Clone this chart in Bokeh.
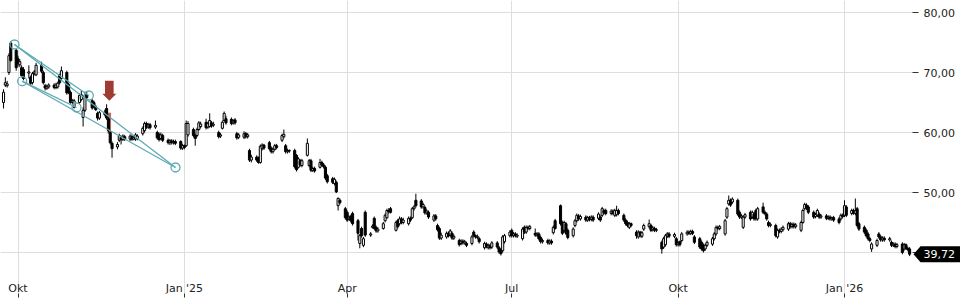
from datetime import datetime, timedelta
import pandas as pd
from bokeh.plotting import figure
from bokeh.models import Range1d, FixedTicker, Label, ColumnDataSource
from bokeh.embed import file_html
from bokeh.resources import INLINE

# ---------------- data (daily candles, trading days from 2024-09-23) ----------------
first_day = "2024-09-23"

opens = [
    65.0, 67.9, 67.8, 70.0, 74.9, 73.7,
    72.3, 71.3, 70.8, 70.5, 69.9, 69.2, 68.3, 69.8, 69.6, 71.2, 70.0, 67.8, 67.4, 67.6, 67.9, 67.5, 67.6, 69.5, 69.0, 70.0, 68.0, 66.7, 65.0,
    64.2, 65.0, 65.5, 62.5, 63.7, 66.3, 65.3, 65.0, 64.3, 63.2, 62.4, 63.0, 64.0, 62.3, 60.0, 58.2, 57.6, 58.7, 59.2, 58.8, 59.3,
    58.9, 59.3, 58.9, 58.9, 59.0, 59.8, 60.3, 61.5, 60.9, 61.3, 60.9, 60.0, 59.7, 59.0, 59.5, 58.7, 58.3, 58.6, 58.3, 58.5, 58.5, 57.4,
    57.8, 57.8, 59.6, 60.5, 59.5, 59.5, 60.5, 61.0, 61.7, 60.9, 61.0, 61.6, 61.2, 60.0, 59.4, 60.7, 62.0, 62.3, 62.2, 61.6, 62.1, 59.8, 59.2,
    59.2, 59.8, 59.3, 57.0, 55.4, 55.9, 55.8, 55.0, 57.3, 57.9, 58.3, 57.4, 56.8, 57.2, 57.8, 58.7, 59.3, 57.8, 56.8, 57.0,
    57.0, 56.2, 54.2, 55.3, 54.5, 56.2, 54.5, 55.3, 53.7, 54.0, 54.2, 55.0, 54.6, 54.2, 52.8, 52.3, 51.5, 51.7, 47.8, 48.7, 47.3,
    46.7, 45.6, 46.0, 46.5, 45.3, 41.5, 44.0, 41.2, 46.7, 42.9, 44.2, 45.7, 44.2, 43.6, 44.0, 45.3, 45.8, 47.0, 47.3, 43.7, 45.3, 44.8,
    45.6, 45.0, 44.8, 45.7, 45.8, 47.3, 48.7, 48.6, 47.6, 47.5, 46.6, 46.7, 45.4, 46.1, 44.5, 44.0, 42.4, 42.6, 43.2, 42.9, 43.2, 42.4,
    42.0, 41.5, 41.9, 41.6, 41.5, 41.5, 43.4, 42.8, 42.5, 42.3, 40.8, 41.4, 40.8, 41.2, 40.9, 41.6, 40.8, 40.5, 40.3, 41.8, 42.8,
    43.7, 42.8, 43.1, 42.7, 42.3, 44.2, 43.4, 44.2, 44.0, 43.2, 42.9, 43.1, 42.5, 41.8, 42.0, 41.6, 41.9, 43.3, 45.3, 47.8, 45.0, 43.7, 44.8,
    43.7, 42.8, 44.5, 45.3, 46.1, 45.6, 45.9, 45.4, 45.8, 45.5, 45.9, 45.7, 45.9, 46.2, 47.0, 47.0, 46.5, 46.9, 46.2, 46.3, 47.0,
    46.2, 45.4, 45.0, 44.2, 44.8, 43.4, 42.6, 43.4, 42.7, 43.9, 44.3, 44.5, 43.8, 44.0, 43.7, 41.7, 40.9, 41.3, 42.7, 43.1, 42.7, 42.3,
    41.3, 41.8, 42.0, 43.1, 43.4, 43.2, 43.5, 42.6, 42.3, 41.7, 41.2, 40.6, 41.2, 41.4, 42.3, 43.1, 44.2, 44.0, 43.1, 45.9, 48.1, 48.7, 48.4,
    48.7, 46.7, 45.9, 44.2, 45.9, 46.7, 45.9, 46.4, 47.0, 45.6, 47.6, 46.7, 46.4, 45.0, 44.5, 44.5, 42.6, 43.7, 43.5, 43.8,
    43.9, 44.8, 44.3, 44.7, 44.3, 43.7, 45.0, 47.3, 47.9, 47.6, 46.7, 46.0, 46.2, 46.4, 45.9, 46.1, 45.7, 45.9, 45.6, 45.8, 45.6, 45.6, 46.2,
    46.2, 47.6, 46.5, 47.0, 46.5, 47.3, 44.8, 44.2, 43.7, 43.1, 42.3, 40.6, 41.2, 43.1, 42.6, 42.1, 42.4, 42.1, 41.7, 41.2, 41.4, 41.0,
    41.4, 40.6, 41.3, 40.7, 40.6,
]
closes = [
    66.7, 68.3, 68.1, 72.8, 72.0, 70.8,
    71.5, 71.8, 69.5, 69.0, 70.1, 68.2, 69.8, 70.1, 71.2, 70.2, 68.3, 67.4, 67.7, 67.9, 67.5, 67.9, 68.2, 68.3, 70.3, 66.6, 66.7, 65.0, 65.3,
    65.3, 66.2, 66.3, 63.7, 66.2, 65.8, 64.1, 64.3, 63.8, 62.4, 63.3, 63.4, 62.4, 60.3, 58.3, 57.3, 58.0, 59.5, 58.8, 59.4, 58.9,
    59.4, 58.9, 59.2, 59.6, 59.4, 60.7, 61.5, 60.9, 61.3, 60.8, 61.2, 59.1, 58.8, 59.6, 58.7, 58.3, 58.6, 58.3, 58.5, 58.2, 57.4, 57.8,
    57.5, 61.5, 61.5, 59.5, 59.0, 60.5, 61.6, 61.4, 60.8, 61.5, 62.0, 61.1, 61.4, 59.3, 59.6, 61.7, 63.2, 61.6, 61.5, 61.9, 61.6, 59.1, 59.6,
    59.8, 59.3, 59.6, 55.4, 55.9, 55.4, 55.0, 57.7, 57.9, 57.4, 57.3, 56.8, 57.2, 57.8, 57.5, 59.5, 59.7, 56.8, 57.0, 56.9,
    54.3, 53.8, 55.6, 54.6, 55.3, 58.2, 55.3, 53.7, 54.0, 53.6, 55.0, 54.6, 54.3, 52.4, 51.8, 51.7, 52.2, 50.1, 49.0, 48.3, 45.8,
    45.4, 45.9, 45.3, 44.8, 43.2, 42.8, 42.8, 42.3, 42.9, 43.1, 44.4, 44.0, 43.6, 43.9, 44.8, 46.2, 47.0, 46.8, 46.7, 45.0, 44.3, 45.6,
    45.0, 45.4, 45.7, 45.4, 47.3, 47.6, 47.8, 47.6, 48.0, 46.6, 46.9, 45.9, 46.1, 45.6, 43.8, 42.4, 42.9, 43.2, 42.8, 43.6, 42.4, 42.7,
    41.3, 41.9, 41.6, 41.8, 41.2, 42.6, 42.8, 42.6, 42.7, 41.8, 41.5, 41.0, 41.2, 40.8, 41.6, 40.9, 40.1, 39.8, 42.6, 42.8, 43.4,
    42.8, 43.1, 42.8, 42.9, 43.9, 43.4, 44.2, 44.0, 44.3, 42.9, 43.1, 42.3, 41.8, 42.0, 41.6, 41.9, 41.6, 44.2, 44.0, 44.8, 43.2, 45.0, 43.2,
    42.5, 43.9, 45.3, 46.2, 45.6, 46.0, 45.4, 45.8, 45.5, 45.9, 45.4, 46.4, 45.4, 47.3, 46.6, 46.5, 46.9, 46.5, 47.0, 47.0, 46.5,
    45.4, 44.8, 44.5, 44.8, 44.5, 42.8, 43.4, 42.8, 43.3, 44.5, 44.8, 43.7, 44.1, 43.7, 43.8, 40.6, 42.3, 42.8, 43.1, 42.7, 43.0, 41.3,
    41.6, 41.3, 43.1, 43.4, 43.2, 43.5, 43.2, 41.7, 40.9, 40.6, 40.3, 41.2, 41.7, 42.3, 43.1, 44.2, 44.0, 44.3, 45.3, 47.3, 48.7, 47.9, 48.9,
    46.4, 45.9, 46.1, 45.9, 46.3, 45.6, 46.7, 45.6, 45.6, 47.3, 46.7, 46.5, 45.6, 44.5, 44.7, 42.8, 43.7, 43.5, 43.9, 44.2,
    44.8, 44.3, 44.7, 44.3, 44.6, 45.0, 47.0, 48.0, 47.4, 46.7, 45.9, 46.3, 47.0, 45.9, 46.1, 45.7, 45.9, 45.6, 45.8, 45.4, 45.0, 46.2, 46.0,
    47.8, 46.2, 47.0, 46.6, 47.0, 44.5, 43.9, 43.4, 42.8, 42.3, 42.0, 41.4, 42.0, 42.6, 42.1, 42.4, 42.1, 42.3, 41.2, 41.4, 41.0, 41.3,
    40.0, 41.3, 40.7, 40.5, 39.72,
]
highs = [
    67.2, 69.2, 68.6, 73.2, 75.2, 74.0,
    72.8, 72.2, 71.2, 70.9, 71.2, 69.5, 70.1, 70.4, 71.6, 71.8, 70.3, 68.1, 68.0, 68.2, 68.2, 68.3, 68.5, 69.8, 71.0, 70.3, 68.3, 67.0, 65.6,
    65.6, 66.5, 67.0, 64.2, 66.8, 66.8, 65.6, 65.3, 64.6, 63.5, 63.6, 63.8, 64.7, 62.6, 60.3, 58.5, 58.4, 59.8, 59.5, 59.7, 59.6,
    59.7, 59.6, 59.5, 59.9, 59.7, 61.0, 61.8, 61.8, 61.6, 61.6, 62.0, 60.3, 60.0, 60.0, 59.8, 59.0, 58.9, 58.9, 58.8, 58.8, 58.7, 58.1,
    58.0, 62.0, 61.9, 60.8, 59.8, 60.8, 61.9, 61.8, 62.3, 61.8, 63.2, 61.9, 61.8, 60.3, 59.9, 62.0, 63.5, 62.8, 62.5, 62.2, 62.4, 60.1, 59.9,
    60.2, 60.1, 59.9, 57.3, 56.3, 56.2, 56.0, 58.0, 58.2, 58.1, 58.6, 57.7, 57.5, 58.1, 58.1, 59.8, 60.5, 58.1, 57.3, 57.2,
    57.3, 56.4, 55.9, 55.6, 55.6, 59.0, 55.6, 55.6, 54.3, 54.3, 55.6, 55.3, 54.9, 54.5, 53.1, 52.6, 52.5, 52.0, 49.2, 49.0, 47.6,
    47.0, 46.2, 46.3, 46.8, 45.6, 43.1, 44.3, 42.6, 47.0, 43.4, 44.7, 46.0, 44.5, 44.2, 45.1, 46.5, 47.3, 47.4, 47.6, 45.3, 45.6, 46.0,
    45.9, 45.8, 46.0, 46.0, 47.6, 47.9, 49.8, 48.9, 48.3, 47.8, 47.2, 47.0, 46.4, 46.4, 44.8, 44.3, 43.3, 43.5, 43.5, 43.9, 43.5, 43.0,
    42.3, 42.2, 42.2, 42.1, 41.8, 42.9, 43.7, 43.0, 43.0, 42.6, 41.8, 41.7, 41.5, 41.4, 41.9, 41.9, 41.1, 40.7, 42.9, 43.1, 43.7,
    44.0, 43.4, 43.4, 43.2, 44.2, 44.5, 44.5, 44.5, 44.6, 44.0, 43.4, 43.4, 42.8, 42.3, 42.3, 42.2, 42.2, 44.5, 45.6, 48.0, 45.3, 45.3, 45.1,
    44.0, 44.2, 45.6, 46.5, 46.4, 46.3, 46.2, 46.1, 46.1, 46.2, 46.2, 46.7, 46.2, 47.6, 47.3, 47.3, 47.2, 47.2, 47.3, 47.8, 47.3,
    46.5, 45.7, 45.3, 45.1, 45.0, 43.7, 43.7, 43.6, 43.6, 44.8, 45.5, 44.8, 44.4, 44.3, 44.1, 42.0, 42.6, 43.1, 43.4, 43.4, 43.3, 42.6,
    41.9, 42.0, 43.4, 43.7, 43.7, 43.8, 43.8, 42.9, 42.6, 42.0, 41.5, 41.5, 42.0, 42.6, 43.4, 44.5, 44.5, 44.6, 45.6, 47.6, 49.5, 49.0, 49.2,
    49.0, 47.0, 46.4, 46.2, 46.6, 47.0, 47.0, 46.7, 47.3, 47.6, 48.3, 47.0, 46.7, 45.3, 45.0, 44.8, 44.0, 44.0, 44.2, 44.5,
    45.1, 45.1, 45.0, 45.0, 44.9, 45.3, 47.3, 48.3, 48.2, 47.9, 47.0, 46.6, 47.3, 46.7, 46.4, 46.4, 46.2, 46.2, 46.0, 46.1, 45.9, 46.5, 46.5,
    48.7, 47.9, 47.3, 47.3, 49.0, 47.6, 45.1, 44.5, 44.0, 43.4, 42.6, 41.7, 42.3, 43.4, 42.9, 42.7, 42.7, 42.6, 42.0, 41.7, 41.7, 41.6,
    41.7, 41.6, 41.5, 41.0, 40.9,
]
lows = [
    64.0, 67.6, 67.5, 69.6, 71.8, 70.3,
    71.0, 70.9, 69.2, 68.7, 69.0, 67.9, 68.0, 69.5, 69.4, 69.9, 68.0, 67.0, 67.1, 67.3, 67.2, 67.2, 67.3, 68.0, 68.8, 66.3, 66.4, 64.8, 64.8,
    64.0, 64.8, 65.2, 61.0, 63.4, 65.5, 63.8, 64.0, 63.6, 62.0, 62.1, 62.7, 62.1, 60.0, 58.0, 55.8, 57.2, 58.4, 58.0, 58.6, 58.6,
    58.6, 58.6, 58.7, 58.6, 58.7, 59.5, 60.0, 60.6, 60.6, 60.5, 60.6, 58.8, 58.5, 58.7, 58.4, 58.0, 57.9, 58.0, 58.0, 57.9, 57.1, 57.1,
    57.2, 57.6, 59.3, 59.2, 57.8, 59.2, 60.3, 60.7, 60.5, 60.6, 60.8, 60.8, 60.9, 59.0, 59.1, 60.5, 61.8, 61.3, 61.2, 61.3, 61.3, 58.8, 58.9,
    58.9, 59.0, 59.0, 55.1, 55.0, 55.1, 54.8, 54.8, 57.0, 57.1, 57.0, 56.5, 56.5, 57.0, 57.2, 58.4, 59.0, 56.5, 56.5, 56.6,
    54.0, 53.5, 54.0, 54.3, 54.2, 56.0, 54.2, 53.4, 53.4, 53.3, 54.0, 54.3, 54.0, 52.1, 51.5, 51.4, 51.2, 49.9, 47.0, 48.0, 45.5,
    45.1, 45.3, 45.0, 44.5, 42.0, 40.7, 42.5, 40.9, 42.6, 42.6, 44.0, 43.8, 43.3, 43.3, 43.8, 45.0, 45.6, 46.5, 46.5, 43.5, 44.0, 44.5,
    44.7, 44.7, 44.5, 45.1, 45.6, 47.0, 47.5, 47.3, 47.3, 46.3, 46.3, 45.6, 45.1, 45.3, 43.5, 42.1, 42.1, 42.3, 42.5, 42.6, 42.1, 42.1,
    41.0, 41.2, 41.3, 41.3, 40.9, 41.2, 42.5, 42.3, 42.2, 41.5, 40.5, 40.7, 40.5, 40.5, 40.6, 40.6, 39.8, 39.5, 40.0, 41.5, 42.5,
    42.5, 42.5, 42.5, 42.4, 42.0, 43.1, 43.1, 43.7, 43.7, 42.6, 42.6, 42.0, 41.5, 41.5, 41.3, 41.3, 41.3, 43.0, 43.8, 44.5, 42.9, 43.4, 42.9,
    42.2, 42.5, 44.2, 45.0, 45.3, 45.3, 45.1, 45.1, 45.2, 45.2, 45.1, 45.4, 45.1, 45.9, 46.3, 46.2, 46.2, 46.2, 45.9, 46.0, 46.2,
    45.1, 44.5, 44.2, 43.9, 44.2, 42.3, 42.3, 42.5, 42.4, 43.6, 44.0, 43.4, 43.5, 43.4, 43.4, 39.8, 40.6, 41.0, 42.4, 42.4, 42.4, 41.0,
    41.0, 41.0, 41.7, 42.8, 42.9, 42.9, 42.9, 41.4, 40.6, 40.3, 40.0, 40.3, 40.9, 41.1, 42.0, 42.8, 43.7, 43.7, 42.8, 45.6, 47.8, 47.6, 48.1,
    46.1, 45.6, 45.6, 43.9, 45.6, 45.3, 45.6, 45.3, 45.3, 45.3, 46.4, 46.2, 45.3, 44.2, 44.2, 42.5, 42.3, 43.2, 43.2, 43.5,
    43.6, 44.0, 44.0, 44.0, 44.0, 43.4, 44.8, 47.0, 47.1, 46.4, 45.6, 45.7, 45.9, 45.6, 45.6, 45.4, 45.4, 45.3, 45.3, 45.1, 44.7, 45.3, 45.7,
    45.9, 45.9, 46.2, 46.3, 46.2, 44.2, 43.6, 43.1, 42.5, 42.0, 41.7, 40.1, 40.9, 42.3, 41.8, 41.8, 41.8, 41.8, 40.9, 40.9, 40.7, 40.7,
    39.7, 40.3, 40.4, 40.2, 39.4,
]

month_ticks = ["2024-10-01", "2025-01-01", "2025-04-01", "2025-07-01", "2025-10-01", "2026-01-01"]
month_labels = ["Okt", "Jan '25", "Apr", "Jul", "Okt", "Jan '26"]
price_ticks = [40, 50, 60, 70, 80]
price_labels = ["", "50,00", "60,00", "70,00", "80,00"]   # 40,00 sits under the last-price marker

# drawn trend lines (start/end points)
trend_x0 = ["2024-09-29 01:30", "2024-09-29 01:30", "2024-10-03 07:40", "2024-10-03 07:40"]
trend_y0 = [74.67, 74.67, 68.55, 68.55]
trend_x1 = ["2024-11-09 03:36", "2024-12-27 02:10", "2024-11-02 08:24", "2024-12-27 02:10"]
trend_y1 = [66.17, 54.17, 64.17, 54.17]

# signal marker
signal_date = "2024-11-20 12:00"
signal_top = 63.3
signal_bottom = 59.8
arrow_tip = 65.3

# ---------------- geometry ----------------
W, H = 960, 300
FRAME_H = 293           # frame spans the full width; price scale drawn at the right
PLOT_RIGHT_PX = 912     # where the price area ends
px_per_day = 1.8085
ms_per_px = 86400000 / px_per_day
x_start = datetime(2024, 9, 21, 7, 45)
x_end = x_start + timedelta(milliseconds=W * ms_per_px)
y_top = 82.0
px_per_unit = 6.0
y_bottom = y_top - FRAME_H / px_per_unit


def to_ms(s):
    return pd.Timestamp(s).value / 1e6


x0_ms = to_ms(x_start)


def px_x(px):
    return x0_ms + px * ms_per_px


dates = pd.bdate_range(first_day, periods=len(closes))
up = [c >= o for o, c in zip(opens, closes)]
src = ColumnDataSource(dict(
    date=dates,
    top=[max(o, c) for o, c in zip(opens, closes)],
    bottom=[min(o, c) for o, c in zip(opens, closes)],
    high=highs, low=lows,
    fill=["white" if u else "black" for u in up],
))

p = figure(width=W, height=H, x_axis_type="datetime",
           x_range=Range1d(x_start, x_end), y_range=Range1d(y_bottom, y_top),
           output_backend="svg", toolbar_location=None, y_axis_location=None,
           min_border_left=0, min_border_top=0, min_border_right=0,
           min_border_bottom=H - FRAME_H)
p.outline_line_color = None
p.background_fill_color = "white"
p.border_fill_color = "white"

tick_ms = [to_ms(d) for d in month_ticks]
p.xaxis.ticker = FixedTicker(ticks=tick_ms)
p.xaxis.major_label_overrides = {t: "" for t in tick_ms}
p.xaxis.major_label_text_font_size = "0px"
p.xaxis.major_label_standoff = 0
p.xaxis.axis_line_color = None
p.xaxis.major_tick_in = 0
p.xaxis.major_tick_out = 4
p.xaxis.minor_tick_line_color = None
p.xaxis.major_tick_line_color = "#333333"
p.xgrid.grid_line_color = "#dedede"
p.ygrid.visible = False

# horizontal price grid, ending where the price scale starts
n = len(price_ticks)
p.segment(x0=[x0_ms] * n, x1=[px_x(PLOT_RIGHT_PX)] * n, y0=price_ticks, y1=price_ticks,
          line_color="#dedede", line_width=1)
p.segment(x0=[px_x(PLOT_RIGHT_PX)] * n, x1=[px_x(PLOT_RIGHT_PX + 6)] * n,
          y0=price_ticks, y1=price_ticks, line_color="#333333", line_width=1)
for v, lab in zip(price_ticks, price_labels):
    if lab:
        p.add_layout(Label(x=px_x(PLOT_RIGHT_PX + 11), y=v, text=lab, text_align="left",
                           text_baseline="middle", text_font="DejaVu Sans",
                           text_font_size="11px", text_color="#222222"))

# signal highlight (under candles)
sx = to_ms(signal_date)
p.quad(left=[sx - 1.7 * ms_per_px], right=[sx + 1.7 * ms_per_px],
       top=[signal_top], bottom=[signal_bottom],
       fill_color="#b8463d", fill_alpha=0.85, line_color=None)

# candles
p.segment(x0="date", y0="low", x1="date", y1="high", source=src,
          line_color="black", line_width=1)
p.vbar(x="date", top="top", bottom="bottom", width=1.15 * 86400000,
       source=src, fill_color="fill", line_color="black", line_width=1)

# trend drawings
teal = "#5eaab3"
p.segment(x0=[to_ms(s) for s in trend_x0], y0=trend_y0,
          x1=[to_ms(s) for s in trend_x1], y1=trend_y1,
          line_color=teal, line_width=1.3)
pts = {}
for xs, ys in ((trend_x0, trend_y0), (trend_x1, trend_y1)):
    for a, b in zip(xs, ys):
        pts[a] = b
p.scatter(x=[to_ms(k) for k in pts], y=list(pts.values()), marker="circle",
          size=9, fill_alpha=0, line_color=teal, line_width=1.3)

# red arrow pointing down at the signal candle
shape_px = [(-4.3, -20), (4.3, -20), (4.3, -7), (7, -7), (0, 0), (-7, -7), (-4.3, -7)]
p.patch(x=[sx + dx * ms_per_px for dx, dy in shape_px],
        y=[arrow_tip - dy / px_per_unit for dx, dy in shape_px],
        fill_color="#9e3b33", line_color=None)

# x tick labels (sit above the tick marks, inside the frame)
label_y = y_top - 287.5 / px_per_unit
for t, lab in zip(tick_ms, month_labels):
    p.add_layout(Label(x=t, y=label_y, text=lab, text_align="center",
                       text_baseline="middle", text_font="DejaVu Sans",
                       text_font_size="11px", text_color="#222222"))

# last price marker
last = closes[-1]
half = 8 / px_per_unit
box_px = [(913, 0), (920, -half), (962, -half), (962, half), (920, half)]
p.patch(x=[px_x(a) for a, b in box_px], y=[last + b for a, b in box_px],
        fill_color="black", line_color=None)
p.add_layout(Label(x=px_x(923), y=last,
                   text=f"{last:.2f}".replace(".", ","), text_align="left",
                   text_baseline="middle", text_font="DejaVu Sans",
                   text_font_size="11px", text_color="white"))

open("out.html", "w").write(file_html(p, INLINE))
